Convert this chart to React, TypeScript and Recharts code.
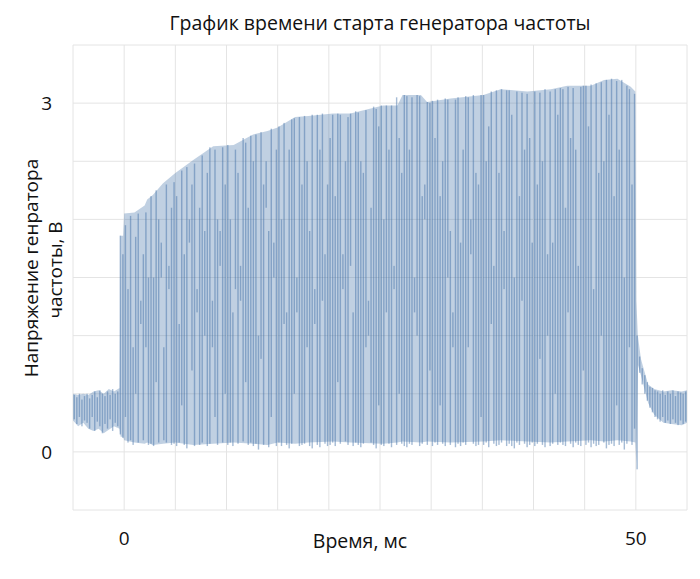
import React from "react";
import { ComposedChart, Area, Bar, XAxis, YAxis, CartesianGrid } from "recharts";

// огибающая сигнала: время (мс), нижняя и верхняя граница (В)
const envT = [
  -5, -4.5, -4, -3.5, -3, -2.5, -2, -1.5, -1, -0.45, -0.35, -0.1, 0, 1, 2, 2.25, 2.8, 3.8, 5, 6.75,
  8.7, 10.7, 12.6, 14, 15, 16.7, 18, 20.4, 22.1, 25.3, 26.7, 27.2, 29, 29.6, 31.9, 35.1, 36.8, 39.4,
  41.7, 43.3, 45.6, 46.9, 48.2, 49.5, 49.95, 50.05, 50.2, 50.5, 51.2, 51.8, 52.7, 53.5, 54.5, 55,
];
const envLo = [
  0.27, 0.22, 0.25, 0.2, 0.18, 0.2, 0.16, 0.19, 0.22, 0.2, 0.13, 0.13, 0.1, 0.08, 0.07, 0.08, 0.06,
  0.07, 0.08, 0.06, 0.07, 0.08, 0.07, 0.06, 0.08, 0.07, 0.08, 0.09, 0.08, 0.07, 0.08, 0.09, 0.08,
  0.09, 0.08, 0.09, 0.1, 0.09, 0.08, 0.09, 0.1, 0.09, 0.1, 0.09, 0.08, -0.1, 0.75, 0.66, 0.42, 0.32,
  0.25, 0.24, 0.23, 0.25,
];
const envHi = [
  0.5, 0.49, 0.5, 0.49, 0.52, 0.53, 0.5, 0.54, 0.52, 0.55, 1.86, 1.86, 2.05, 2.06, 2.12, 2.17, 2.21,
  2.31, 2.4, 2.51, 2.63, 2.64, 2.73, 2.76, 2.79, 2.88, 2.89, 2.91, 2.91, 2.98, 2.98, 3.07, 3.07, 3.01,
  3.04, 3.07, 3.12, 3.1, 3.12, 3.15, 3.15, 3.2, 3.21, 3.14, 3.1, 1.3, 1.0, 0.8, 0.58, 0.54, 0.52,
  0.53, 0.52, 0.53,
];

// отсчёты осциллограммы: шаг 0.25 мс, начиная с -5 мс
const T0 = -5;
const STEP = 0.25;
const sampleHi = [
  // до старта
  0.49, 0.47, 0.5, 0.45, 0.48, 0.5, 0.46, 0.49, 0.52, 0.47, 0.53, 0.5, 0.48, 0.52, 0.49, 0.54, 0.5, 0.52, 1.86, 1.7,
  // 0 - 50 мс
  1.95, 1.4, 2.03, 0.9, 1.85, 2.05, 1.3, 1.7, 2.06, 1.5,
  2.2, 1.5, 2.25, 2.0, 1.8, 0.9, 2.3, 1.6, 2.1, 2.32,
  2.2, 1.1, 2.42, 1.7, 2.45, 2.0, 2.3, 2.48, 1.4, 2.1,
  2.55, 1.9, 2.4, 2.62, 1.3, 2.6, 2.0, 1.9, 2.62, 2.3,
  2.64, 2.0, 1.2, 2.6, 2.4, 1.6, 2.7, 2.66, 2.1, 2.72,
  2.5, 2.73, 1.0, 2.75, 2.3, 2.5, 1.9, 2.78, 1.8, 2.6,
  2.8, 2.0, 2.83, 1.2, 2.6, 2.86, 2.87, 1.5, 2.88, 2.3,
  2.89, 2.5, 1.9, 2.9, 1.4, 2.9, 2.6, 2.91, 1.7, 2.3,
  2.7, 2.9, 2.2, 2.91, 2.9, 1.7, 2.5, 2.88, 2.91, 1.2,
  2.93, 2.92, 2.5, 2.4, 2.94, 1.3, 2.1, 2.97, 2.95, 2.8,
  2.98, 2.0, 2.98, 2.6, 2.98, 1.6, 3.05, 2.7, 2.4, 3.07,
  3.06, 2.6, 3.05, 1.5, 3.07, 3.06, 2.2, 2.3, 3.01, 3.0,
  3.02, 2.7, 3.03, 2.2, 2.5, 3.04, 3.03, 1.9, 1.2, 3.03,
  3.05, 1.8, 2.6, 3.06, 3.05, 2.0, 3.07, 2.4, 2.3, 3.07,
  3.07, 2.5, 2.8, 3.1, 1.6, 3.11, 2.4, 3.12, 1.9, 3.11,
  3.11, 2.9, 1.5, 3.1, 2.2, 3.09, 2.6, 3.08, 2.7, 1.8,
  3.1, 2.3, 3.09, 2.5, 3.12, 1.7, 3.1, 1.8, 3.12, 2.9,
  3.13, 3.12, 2.1, 3.14, 2.7, 3.13, 2.6, 1.6, 3.14, 3.15,
  3.15, 2.8, 3.16, 1.4, 3.17, 2.4, 3.18, 2.5, 3.2, 2.9,
  3.21, 2.2, 3.19, 2.6, 3.2, 1.5, 3.15, 3.12, 2.3, 3.08,
  // после остановки
  1.0, 0.82, 0.72, 0.66, 0.6, 0.56, 0.55, 0.53, 0.52, 0.5, 0.53, 0.49, 0.52, 0.5, 0.53, 0.48, 0.52, 0.51, 0.5, 0.52,
];
const sampleLo = [
  0.28, 0.24, 0.3, 0.22, 0.27, 0.25, 0.2, 0.3, 0.18, 0.26, 0.22, 0.16, 0.24, 0.2, 0.28, 0.18, 0.25, 0.22, 0.15, 0.12,
  0.3, 0.08, 0.1, 0.06, 0.5, 0.08, 1.1, 0.1, 0.9, 0.06,
  0.07, 0.05, 0.6, 0.08, 1.5, 0.1, 0.08, 1.4, 0.06, 0.07,
  0.05, 0.08, 0.4, 0.06, 0.03, 1.8, 0.7, 0.05, 1.2, 0.06,
  0.08, 1.0, 0.05, 0.07, 0.9, 0.3, 0.06, 1.6, 0.08, 0.5,
  0.06, 0.08, 0.05, 1.4, 0.07, 1.3, 0.09, 0.6, 0.06, 0.08,
  0.05, 0.07, 0.02, 0.8, 0.06, 2.1, 0.04, 0.3, 1.5, 0.05,
  0.08, 0.05, 1.1, 0.06, 0.03, 0.07, 0.5, 1.2, 0.05, 0.06,
  0.07, 0.9, 0.05, 0.03, 1.1, 0.06, 0.04, 1.3, 0.07, 0.05,
  0.06, 0.08, 0.05, 0.6, 0.07, 1.4, 0.09, 0.06, 1.6, 0.05,
  0.08, 0.06, 0.04, 0.07, 0.9, 1.0, 0.08, 0.06, 0.03, 0.4,
  0.06, 0.05, 1.2, 0.07, 0.04, 1.4, 0.06, 0.5, 0.07, 0.05,
  0.04, 0.07, 0.06, 1.2, 1.0, 0.05, 0.07, 2.0, 0.06, 0.7,
  0.05, 0.08, 0.06, 0.4, 0.07, 0.05, 1.5, 0.06, 0.9, 0.04,
  0.07, 0.05, 0.08, 0.06, 0.9, 1.7, 0.07, 0.05, 0.06, 0.3,
  0.06, 0.08, 0.04, 1.1, 0.07, 0.05, 0.06, 0.08, 1.4, 0.05,
  0.07, 0.05, 0.03, 0.08, 0.06, 1.3, 0.07, 0.04, 0.06, 0.08,
  0.05, 0.07, 0.8, 0.06, 0.04, 1.0, 0.05, 0.07, 0.5, 0.06,
  0.08, 0.06, 0.05, 1.2, 0.07, 0.04, 0.08, 0.06, 0.05, 0.7,
  0.06, 0.08, 0.04, 0.07, 0.05, 0.06, 1.0, 0.08, 0.03, 0.06,
  0.07, 0.05, 0.4, 0.06, 0.08, 0.02, 0.07, 0.9, 0.06, 0.2,
  -0.15, 0.68, 0.58, 0.5, 0.44, 0.38, 0.34, 0.3, 0.28, 0.26, 0.3, 0.25, 0.27, 0.24, 0.28, 0.25, 0.23, 0.27, 0.24, 0.26,
];

const xTicks = [-5, 0, 5, 10, 15, 20, 25, 30, 35, 40, 45, 50, 55];
const xLabels = [0, 50];
const yTicks = [-0.5, 0, 0.5, 1, 1.5, 2, 2.5, 3, 3.5];
const yLabels = [0, 3];

const title = "График времени старта генератора частоты";
const xTitle = "Время, мс";
const yTitle = ["Напряжение генратора", "частоты, В"];

const FONT = "'Open Sans', sans-serif";
const BLUE = "#4676aa";
const STROKE_W = 1.4;

const envelope = envT.map((t, i) => ({ t, band: [envLo[i], envHi[i]] }));
const samples = sampleHi.map((hi, i) => ({
  t: T0 + STEP / 2 + i * STEP,
  swing: [sampleLo[i], hi],
}));

// тонкий вертикальный штрих вместо столбика (на числовой оси ширина столбика схлопывается)
const SwingStroke = (props: any) => {
  const { x, y, width, height } = props;
  if (x == null || y == null) return null;
  const cx = x + (width || 0) / 2;
  const top = height < 0 ? y + height : y;
  return (
    <rect
      x={cx - STROKE_W / 2}
      y={top}
      width={STROKE_W}
      height={Math.abs(height)}
      fill="#3f6fa6"
      fillOpacity={0.47}
    />
  );
};

export default function App() {
  const tickStyle = { fontSize: 19, fill: "#111", fontFamily: FONT };
  return (
    <div style={{ position: "relative", width: 692, height: 560 }}>
      <ComposedChart
        width={692}
        height={560}
        data={samples}
        margin={{ top: 37, right: 13, left: 0, bottom: 0 }}
      >
        <CartesianGrid stroke="#e4e4e4" strokeWidth={1} />
        <XAxis
          dataKey="t"
          type="number"
          domain={[-5, 55]}
          ticks={xTicks}
          interval={0}
          allowDataOverflow
          tickFormatter={(v: number) => (xLabels.includes(v) ? String(v) : "")}
          axisLine={false}
          tickLine={false}
          tickSize={0}
          tickMargin={22}
          height={58}
          tick={tickStyle}
        />
        <YAxis
          type="number"
          domain={[-0.5, 3.5]}
          ticks={yTicks}
          interval={0}
          allowDataOverflow
          tickFormatter={(v: number) => (yLabels.includes(v) ? String(v) : "")}
          axisLine={false}
          tickLine={false}
          tickSize={0}
          tickMargin={21}
          width={65}
          tick={tickStyle}
        />
        <Area
          data={envelope}
          dataKey="band"
          type="linear"
          stroke="none"
          fill={BLUE}
          fillOpacity={0.34}
          isAnimationActive={false}
        />
        <Bar dataKey="swing" shape={SwingStroke} isAnimationActive={false} />
      </ComposedChart>
      <svg
        width={692}
        height={560}
        style={{ position: "absolute", left: 0, top: 0, pointerEvents: "none" }}
        fontFamily={FONT}
        fill="#111"
      >
        <text x={372} y={22} textAnchor="middle" fontSize={19.5}>
          {title}
        </text>
        <text x={352} y={540} textAnchor="middle" fontSize={19.5}>
          {xTitle}
        </text>
        <text transform="translate(30,260) rotate(-90)" textAnchor="middle" fontSize={19}>
          {yTitle[0]}
        </text>
        <text transform="translate(54,262) rotate(-90)" textAnchor="middle" fontSize={19}>
          {yTitle[1]}
        </text>
      </svg>
    </div>
  );
}
